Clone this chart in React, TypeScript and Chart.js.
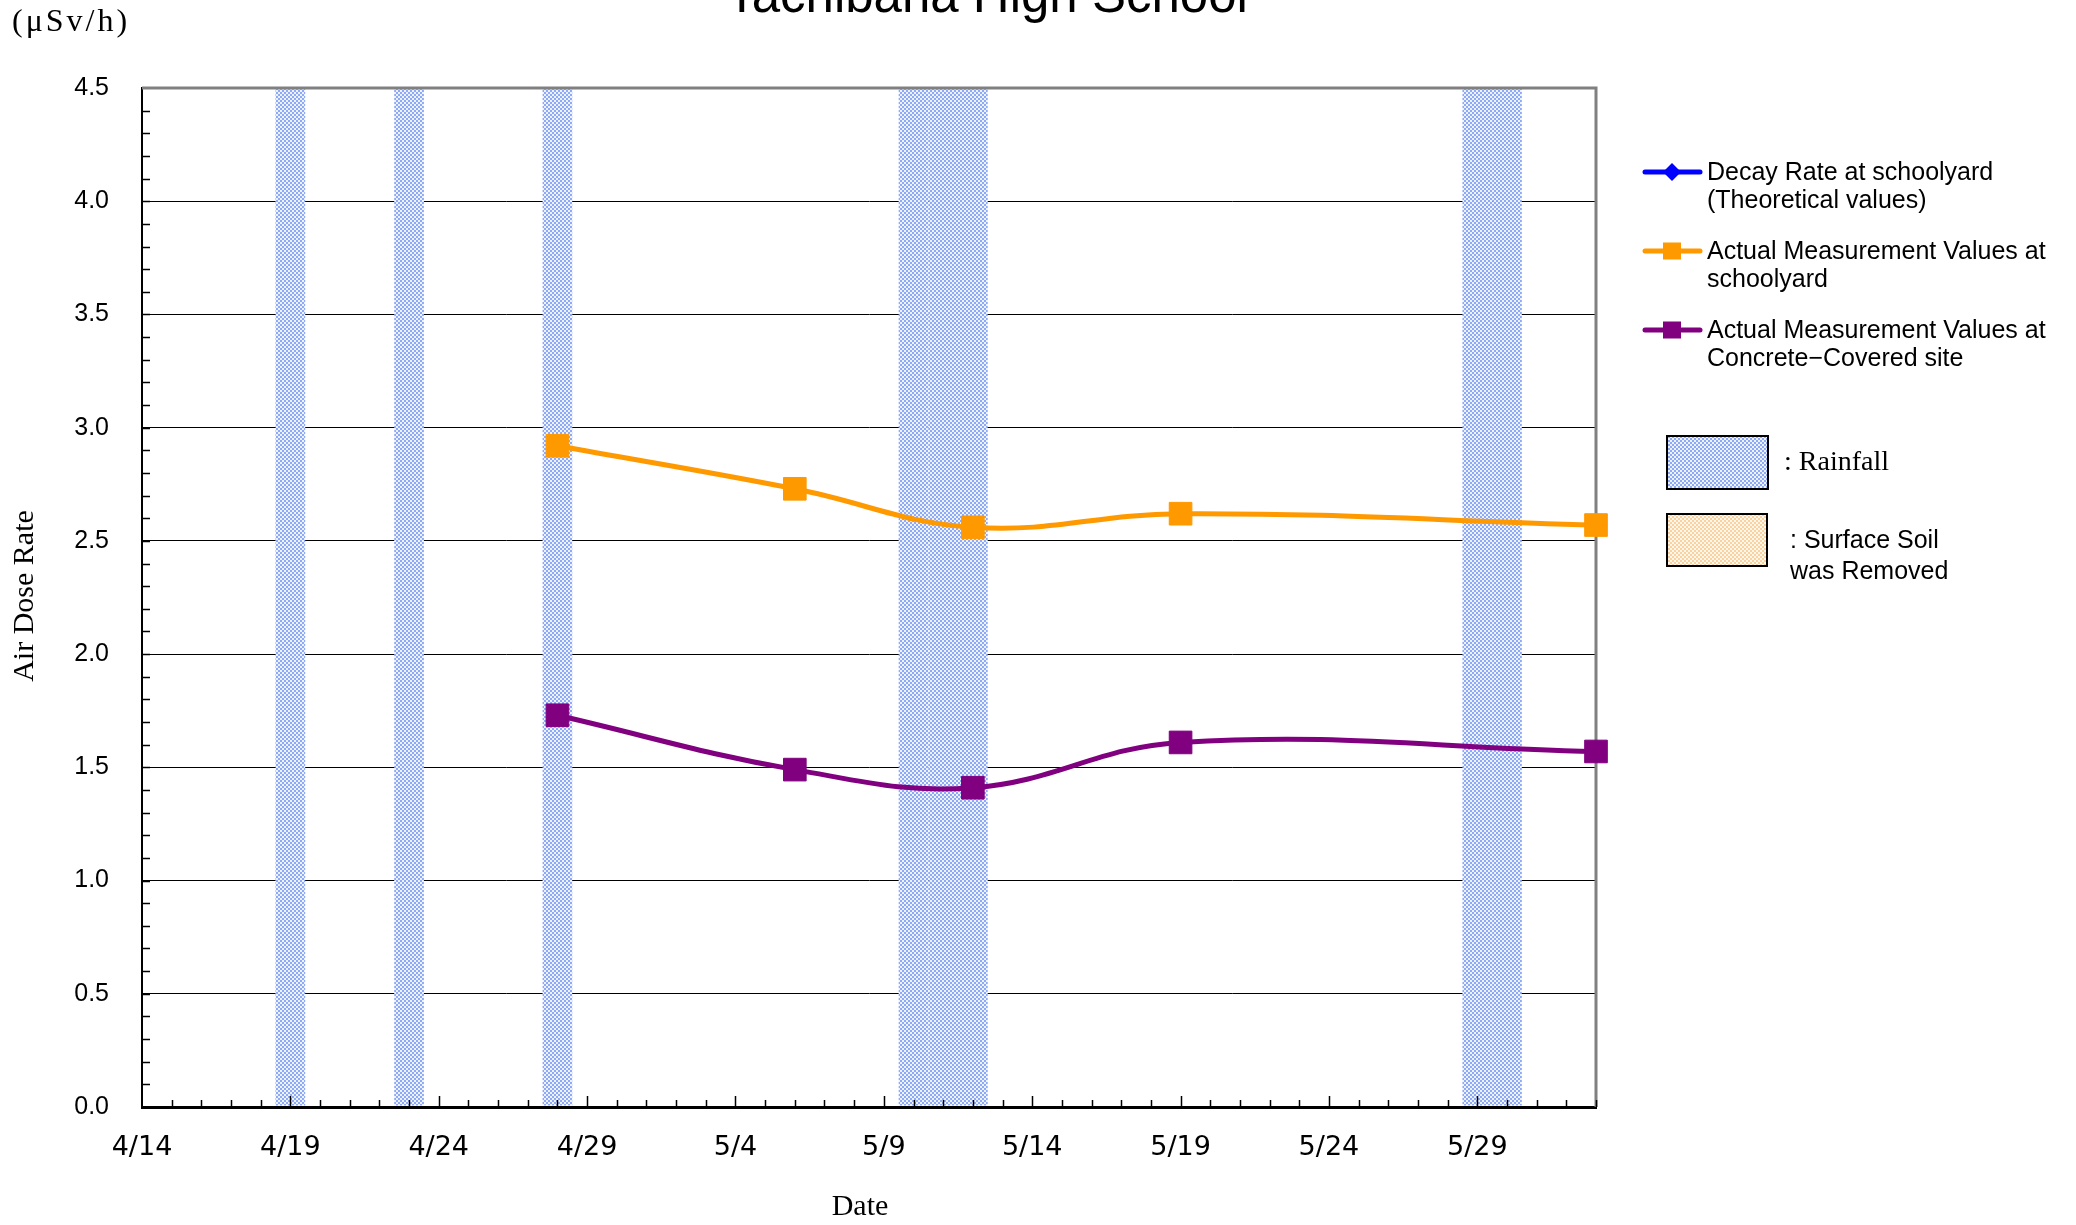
import React, { useEffect, useRef } from 'react';
import { Chart, registerables } from 'chart.js';

Chart.register(...registerables);

// ---------- data ----------
const startDate = '4/14';
const endDate = '6/2';
const tickDates = ['4/14', '4/19', '4/24', '4/29', '5/4', '5/9', '5/14', '5/19', '5/24', '5/29'];
const measureDates = ['4/28', '5/6', '5/12', '5/19', '6/2'];
const schoolyardValues = [2.92, 2.73, 2.56, 2.62, 2.57];
const concreteValues = [1.73, 1.49, 1.41, 1.61, 1.57];
const decayDates: string[] = [];
const decayValues: number[] = [];
const rainDays = ['4/19', '4/23', '4/28', '5/10', '5/11', '5/12', '5/29', '5/30'];
const soilRemovedDays: string[] = [];
const yTickValues = [0, 0.5, 1, 1.5, 2, 2.5, 3, 3.5, 4, 4.5];

const titleText = 'Tachibana High School';
const unitText = '(\u03bcSv/h)';
const yTitle = 'Air Dose Rate';
const xTitle = 'Date';
const legendDecay = ['Decay Rate at schoolyard', '(Theoretical values)'];
const legendSchool = ['Actual Measurement Values at', 'schoolyard'];
const legendConcrete = ['Actual Measurement Values at', 'Concrete\u2212Covered site'];
const legendRain = ': Rainfall';
const legendSoil = [': Surface Soil', 'was Removed'];

const BLUE = '#0000FF';
const ORANGE = '#FF9900';
const PURPLE = '#800080';

// ---------- helpers ----------
function dayIndex(md: string): number {
  const [m, d] = md.split('/').map(Number);
  const [m0, d0] = startDate.split('/').map(Number);
  return Math.round((Date.UTC(2011, m - 1, d) - Date.UTC(2011, m0 - 1, d0)) / 86400000);
}
function dateLabel(i: number): string {
  const [m0, d0] = startDate.split('/').map(Number);
  const dt = new Date(Date.UTC(2011, m0 - 1, d0 + i));
  return `${dt.getUTCMonth() + 1}/${dt.getUTCDate()}`;
}
function makePattern(bg: string, dot: string): CanvasPattern | string {
  const c = document.createElement('canvas');
  c.width = 4;
  c.height = 4;
  const g = c.getContext('2d');
  if (!g) return bg;
  g.fillStyle = bg;
  g.fillRect(0, 0, 4, 4);
  g.fillStyle = dot;
  g.fillRect(0, 0, 2, 2);
  g.fillRect(2, 2, 2, 2);
  const p = g.createPattern(c, 'repeat');
  return p || bg;
}

export default function App() {
  const ref = useRef<HTMLCanvasElement | null>(null);

  useEffect(() => {
    const canvas = ref.current;
    if (!canvas) return;
    const rainFill = makePattern('#edf2ff', '#8ea9f5');
    const soilFill = makePattern('#fff6ec', '#f9d2a0');
    const maxDay = dayIndex(endDate);

    const decor = {
      id: 'decor',
      beforeDatasetsDraw(chart: any) {
        const { ctx, chartArea: a, scales } = chart;
        const x = scales.x;
        const y = scales.y;
        ctx.save();
        // rainfall bands
        ctx.fillStyle = rainFill;
        for (const d of rainDays) {
          const i = dayIndex(d);
          const x0 = x.getPixelForValue(i - 0.5);
          const x1 = x.getPixelForValue(i + 0.5);
          ctx.fillRect(x0, a.top, x1 - x0, a.bottom - a.top - 1.5);
        }
        ctx.fillStyle = soilFill;
        for (const d of soilRemovedDays) {
          const i = dayIndex(d);
          const x0 = x.getPixelForValue(i - 0.5);
          const x1 = x.getPixelForValue(i + 0.5);
          ctx.fillRect(x0, a.top, x1 - x0, a.bottom - a.top - 1.5);
        }
        // gray frame top / right
        ctx.strokeStyle = '#808080';
        ctx.lineWidth = 3;
        ctx.beginPath();
        ctx.moveTo(a.left, a.top);
        ctx.lineTo(a.right, a.top);
        ctx.lineTo(a.right, a.bottom);
        ctx.stroke();
        // minor ticks
        ctx.strokeStyle = '#000';
        ctx.lineWidth = 1.5;
        ctx.beginPath();
        for (let k = 1; k < 45; k++) {
          const py = Math.round(y.getPixelForValue(k / 10)) + 0.5;
          ctx.moveTo(a.left, py);
          ctx.lineTo(a.left + 8, py);
        }
        for (let i = 1; i <= maxDay; i++) {
          const px = Math.round(x.getPixelForValue(i)) + 0.5;
          const len = tickDates.includes(dateLabel(i)) ? 11 : 7;
          ctx.moveTo(px, a.bottom);
          ctx.lineTo(px, a.bottom - len);
        }
        ctx.stroke();
        ctx.restore();
      },
      afterDraw(chart: any) {
        const { ctx } = chart;
        const ds = chart.data.datasets;
        ctx.save();
        ctx.fillStyle = '#000';
        // title (cut at top)
        ctx.font = '51px "Liberation Sans", Arial, sans-serif';
        ctx.textAlign = 'center';
        ctx.textBaseline = 'alphabetic';
        ctx.fillText(titleText, 987, 12);
        // unit
        ctx.font = '32px "Liberation Serif", serif';
        ctx.textAlign = 'left';
        ctx.textBaseline = 'middle';
        (ctx as any).letterSpacing = '3px';
        ctx.fillText(unitText, 12, 23);
        (ctx as any).letterSpacing = '0px';
        // axis titles
        ctx.font = '30px "Liberation Serif", serif';
        ctx.textAlign = 'center';
        ctx.fillText(xTitle, 860, 1207);
        ctx.save();
        ctx.translate(25, 596);
        ctx.rotate(-Math.PI / 2);
        ctx.fillText(yTitle, 0, 0);
        ctx.restore();

        // legend
        const items = [
          { lines: legendDecay, color: ds[0].borderColor, shape: 'diamond', y: 172 },
          { lines: legendSchool, color: ds[1].borderColor, shape: 'square', y: 251 },
          { lines: legendConcrete, color: ds[2].borderColor, shape: 'square', y: 330 },
        ];
        for (const it of items) {
          ctx.strokeStyle = it.color;
          ctx.lineWidth = 5;
          ctx.lineCap = 'round';
          ctx.beginPath();
          ctx.moveTo(1645, it.y);
          ctx.lineTo(1700, it.y);
          ctx.stroke();
          ctx.fillStyle = it.color;
          const cx = 1672;
          if (it.shape === 'diamond') {
            ctx.beginPath();
            ctx.moveTo(cx, it.y - 9);
            ctx.lineTo(cx + 9, it.y);
            ctx.lineTo(cx, it.y + 9);
            ctx.lineTo(cx - 9, it.y);
            ctx.closePath();
            ctx.fill();
          } else {
            ctx.fillRect(cx - 9, it.y - 8.5, 18, 17);
          }
          ctx.fillStyle = '#000';
          ctx.font = '25px "Liberation Sans", Arial, sans-serif';
          ctx.textAlign = 'left';
          ctx.textBaseline = 'middle';
          ctx.fillText(it.lines[0], 1707, it.y + 1);
          ctx.fillText(it.lines[1], 1707, it.y + 29);
        }
        // rainfall box
        ctx.lineCap = 'butt';
        ctx.fillStyle = rainFill;
        ctx.fillRect(1667, 436, 101, 53);
        ctx.strokeStyle = '#000';
        ctx.lineWidth = 2;
        ctx.strokeRect(1667, 436, 101, 53);
        ctx.fillStyle = '#000';
        ctx.font = '28px "Liberation Serif", serif';
        ctx.fillText(legendRain, 1784, 463);
        // soil box
        ctx.fillStyle = soilFill;
        ctx.fillRect(1667, 514, 100, 52);
        ctx.strokeRect(1667, 514, 100, 52);
        ctx.fillStyle = '#000';
        ctx.font = '25px "Liberation Sans", Arial, sans-serif';
        ctx.fillText(legendSoil[0], 1790, 541);
        ctx.fillText(legendSoil[1], 1790, 572);
        ctx.restore();
      },
    };

    const lineDs = (label: string, dates: string[], vals: number[], color: string, style: string) => ({
      label,
      data: dates.map((d, i) => ({ x: dayIndex(d), y: vals[i] })),
      borderColor: color,
      backgroundColor: color,
      borderWidth: 5,
      pointStyle: style,
      pointRadius: 16,
      pointBorderWidth: 1,
      pointBorderColor: color,
      pointBackgroundColor: color,
      tension: 0.4,
      clip: false,
      fill: false,
    });

    const chart = new Chart(canvas, {
      type: 'line',
      data: {
        datasets: [
          lineDs(legendDecay.join(' '), decayDates, decayValues, BLUE, 'rectRot'),
          lineDs(legendSchool.join(' '), measureDates, schoolyardValues, ORANGE, 'rect'),
          lineDs(legendConcrete.join(' '), measureDates, concreteValues, PURPLE, 'rect'),
        ] as any,
      },
      options: {
        animation: false,
        responsive: false,
        maintainAspectRatio: false,
        layout: { padding: { left: 0, top: 88, right: 480, bottom: 0 } },
        plugins: {
          legend: { display: false },
          title: { display: false },
          tooltip: { enabled: false },
        },
        scales: {
          x: {
            type: 'linear',
            min: 0,
            max: maxDay,
            afterFit: (s: any) => {
              s.height = 118;
            },
            grid: { display: false },
            border: { display: true, color: '#000', width: 3 },
            ticks: {
              stepSize: 5,
              autoSkip: false,
              maxRotation: 0,
              includeBounds: false,
              padding: 17,
              color: '#000',
              font: { family: '"DejaVu Sans", sans-serif', size: 27 },
              callback: (v: any) => {
                const lbl = dateLabel(Number(v));
                return tickDates.includes(lbl) ? lbl : '';
              },
            },
          },
          y: {
            min: yTickValues[0],
            max: yTickValues[yTickValues.length - 1],
            afterFit: (s: any) => {
              s.width = 142;
            },
            afterBuildTicks: (s: any) => {
              s.ticks = yTickValues.map((v) => ({ value: v }));
            },
            grid: { color: '#000', lineWidth: 1, drawTicks: false },
            border: { display: true, color: '#000', width: 2 },
            ticks: {
              padding: 33,
              color: '#000',
              font: { family: '"Liberation Sans", Arial, sans-serif', size: 25 },
              callback: (v: any) => Number(v).toFixed(1),
            },
          },
        },
      } as any,
      plugins: [decor],
    });

    return () => {
      chart.destroy();
    };
  }, []);

  return (
    <div style={{ position: 'absolute', left: 0, top: 0, width: 2076, height: 1225, background: '#fff' }}>
      <canvas ref={ref} width={2076} height={1225} style={{ display: 'block' }} />
    </div>
  );
}
